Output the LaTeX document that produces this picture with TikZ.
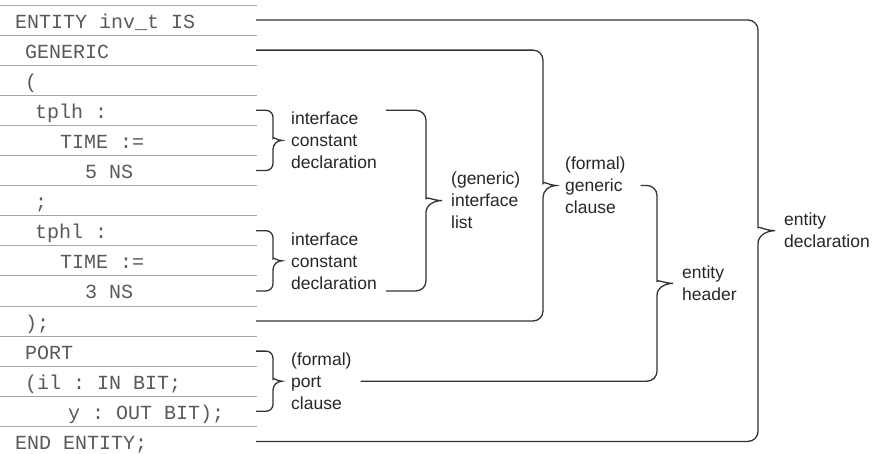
\documentclass[tikz,border=0pt]{standalone}
\usepackage{fontspec}
\setmainfont{Liberation Sans}
\setsansfont{Liberation Sans}
\setmonofont{Liberation Mono}
\usepackage{tikz}

\begin{document}
\begin{tikzpicture}[x=1pt, y=1pt,
    code/.style={anchor=west, inner sep=0pt, text height=18pt, text depth=2pt, font=\ttfamily\fontsize{20}{24}\selectfont, text=black!65},
    rule/.style={draw=black!35, line width=0.9pt},
    curly/.style={draw=black!80, line width=1.3pt},
    tag/.style={anchor=west, inner xsep=9pt, inner ysep=0pt, align=left, font=\sffamily\fontsize{17.5}{22}\selectfont, text=black!85}
]
    \useasboundingbox (0,0) rectangle (878,-453);
    \foreach \k in {0,...,14} \draw[rule] (0,-5-30.1*\k) -- (257,-5-30.1*\k);
    \coordinate (tabend) at (256,0);

    \node[code] (r1) at (15,-20) {ENTITY inv\char95 t IS};
    \node[code] (r2) at (25,-50.1) {GENERIC};
    \node[code] (r3) at (25,-80.2) {(};
    \node[code] (r4) at (35,-110.3) {tplh :};
    \node[code] (r5) at (60,-140.4) {TIME :=};
    \node[code] (r6) at (85,-170.5) {5 NS};
    \node[code] (r7) at (35,-200.6) {;};
    \node[code] (r8) at (35,-230.7) {tphl :};
    \node[code] (r9) at (60,-260.8) {TIME :=};
    \node[code] (r10) at (85,-290.9) {3 NS};
    \node[code] (r11) at (25,-321) {);};
    \node[code] (r12) at (25,-351.1) {PORT};
    \node[code] (r13) at (25,-381.2) {(il : IN BIT;};
    \node[code] (r14) at (68,-411.3) {y : OUT BIT);};
    \node[code] (r15) at (15,-441.4) {END ENTITY;};

    \node[tag] (icdA) at (282,-140.4) {interface\\constant\\declaration};
    \node[tag] (icdB) at (282,-260.8) {interface\\constant\\declaration};
    \node[tag] (gil) at (442,-200.6) {(generic)\\interface\\list};
    \node[tag] (gc) at (556,-185.5) {(formal)\\generic\\clause};
    \node[tag] (eh) at (673,-283.4) {entity\\header};
    \node[tag] (pfc) at (282,-381.2) {(formal)\\port\\clause};
    \node[tag] (ed) at (775,-230.7) {entity\\declaration};

    \draw[curly] (r4 -| tabend) [rounded corners=7pt] -| ([shift={(-9,9)}]icdA.west) [sharp corners]
        to[out=-90,in=180] (icdA.west) to[out=180,in=90] ([shift={(-9,-9)}]icdA.west)
        [rounded corners=7pt] |- (r6 -| tabend);
    \draw[curly] (r8 -| tabend) [rounded corners=7pt] -| ([shift={(-9,9)}]icdB.west) [sharp corners]
        to[out=-90,in=180] (icdB.west) to[out=180,in=90] ([shift={(-9,-9)}]icdB.west)
        [rounded corners=7pt] |- (r10 -| tabend);
    \draw[curly] (r12 -| tabend) [rounded corners=7pt] -| ([shift={(-9,9)}]pfc.west) [sharp corners]
        to[out=-90,in=180] (pfc.west) to[out=180,in=90] ([shift={(-9,-9)}]pfc.west)
        [rounded corners=7pt] |- (r14 -| tabend);
    \draw[curly] (r4 -| icdA.east) [rounded corners=10pt] -| ([shift={(-16,12)}]gil.west) [sharp corners]
        to[out=-90,in=180] (gil.west) to[out=180,in=90] ([shift={(-16,-12)}]gil.west)
        [rounded corners=10pt] |- (r10 -| icdB.east);
    \draw[curly] (r2 -| tabend) [rounded corners=10pt] -| ([shift={(-13,12)}]gc.west) [sharp corners]
        to[out=-90,in=180] (gc.west) to[out=180,in=90] ([shift={(-13,-12)}]gc.west)
        [rounded corners=10pt] |- (r11 -| tabend);
    \draw[curly] ([xshift=6pt]gc.east) [rounded corners=10pt] -| ([shift={(-16,12)}]eh.west) [sharp corners]
        to[out=-90,in=180] (eh.west) to[out=180,in=90] ([shift={(-16,-12)}]eh.west)
        [rounded corners=10pt] |- (pfc.east);
    \draw[curly] (r1 -| tabend) [rounded corners=10pt] -| ([shift={(-17,13)}]ed.west) [sharp corners]
        to[out=-90,in=180] (ed.west) to[out=180,in=90] ([shift={(-17,-13)}]ed.west)
        [rounded corners=10pt] |- (r15 -| tabend);
\end{tikzpicture}
\end{document}
